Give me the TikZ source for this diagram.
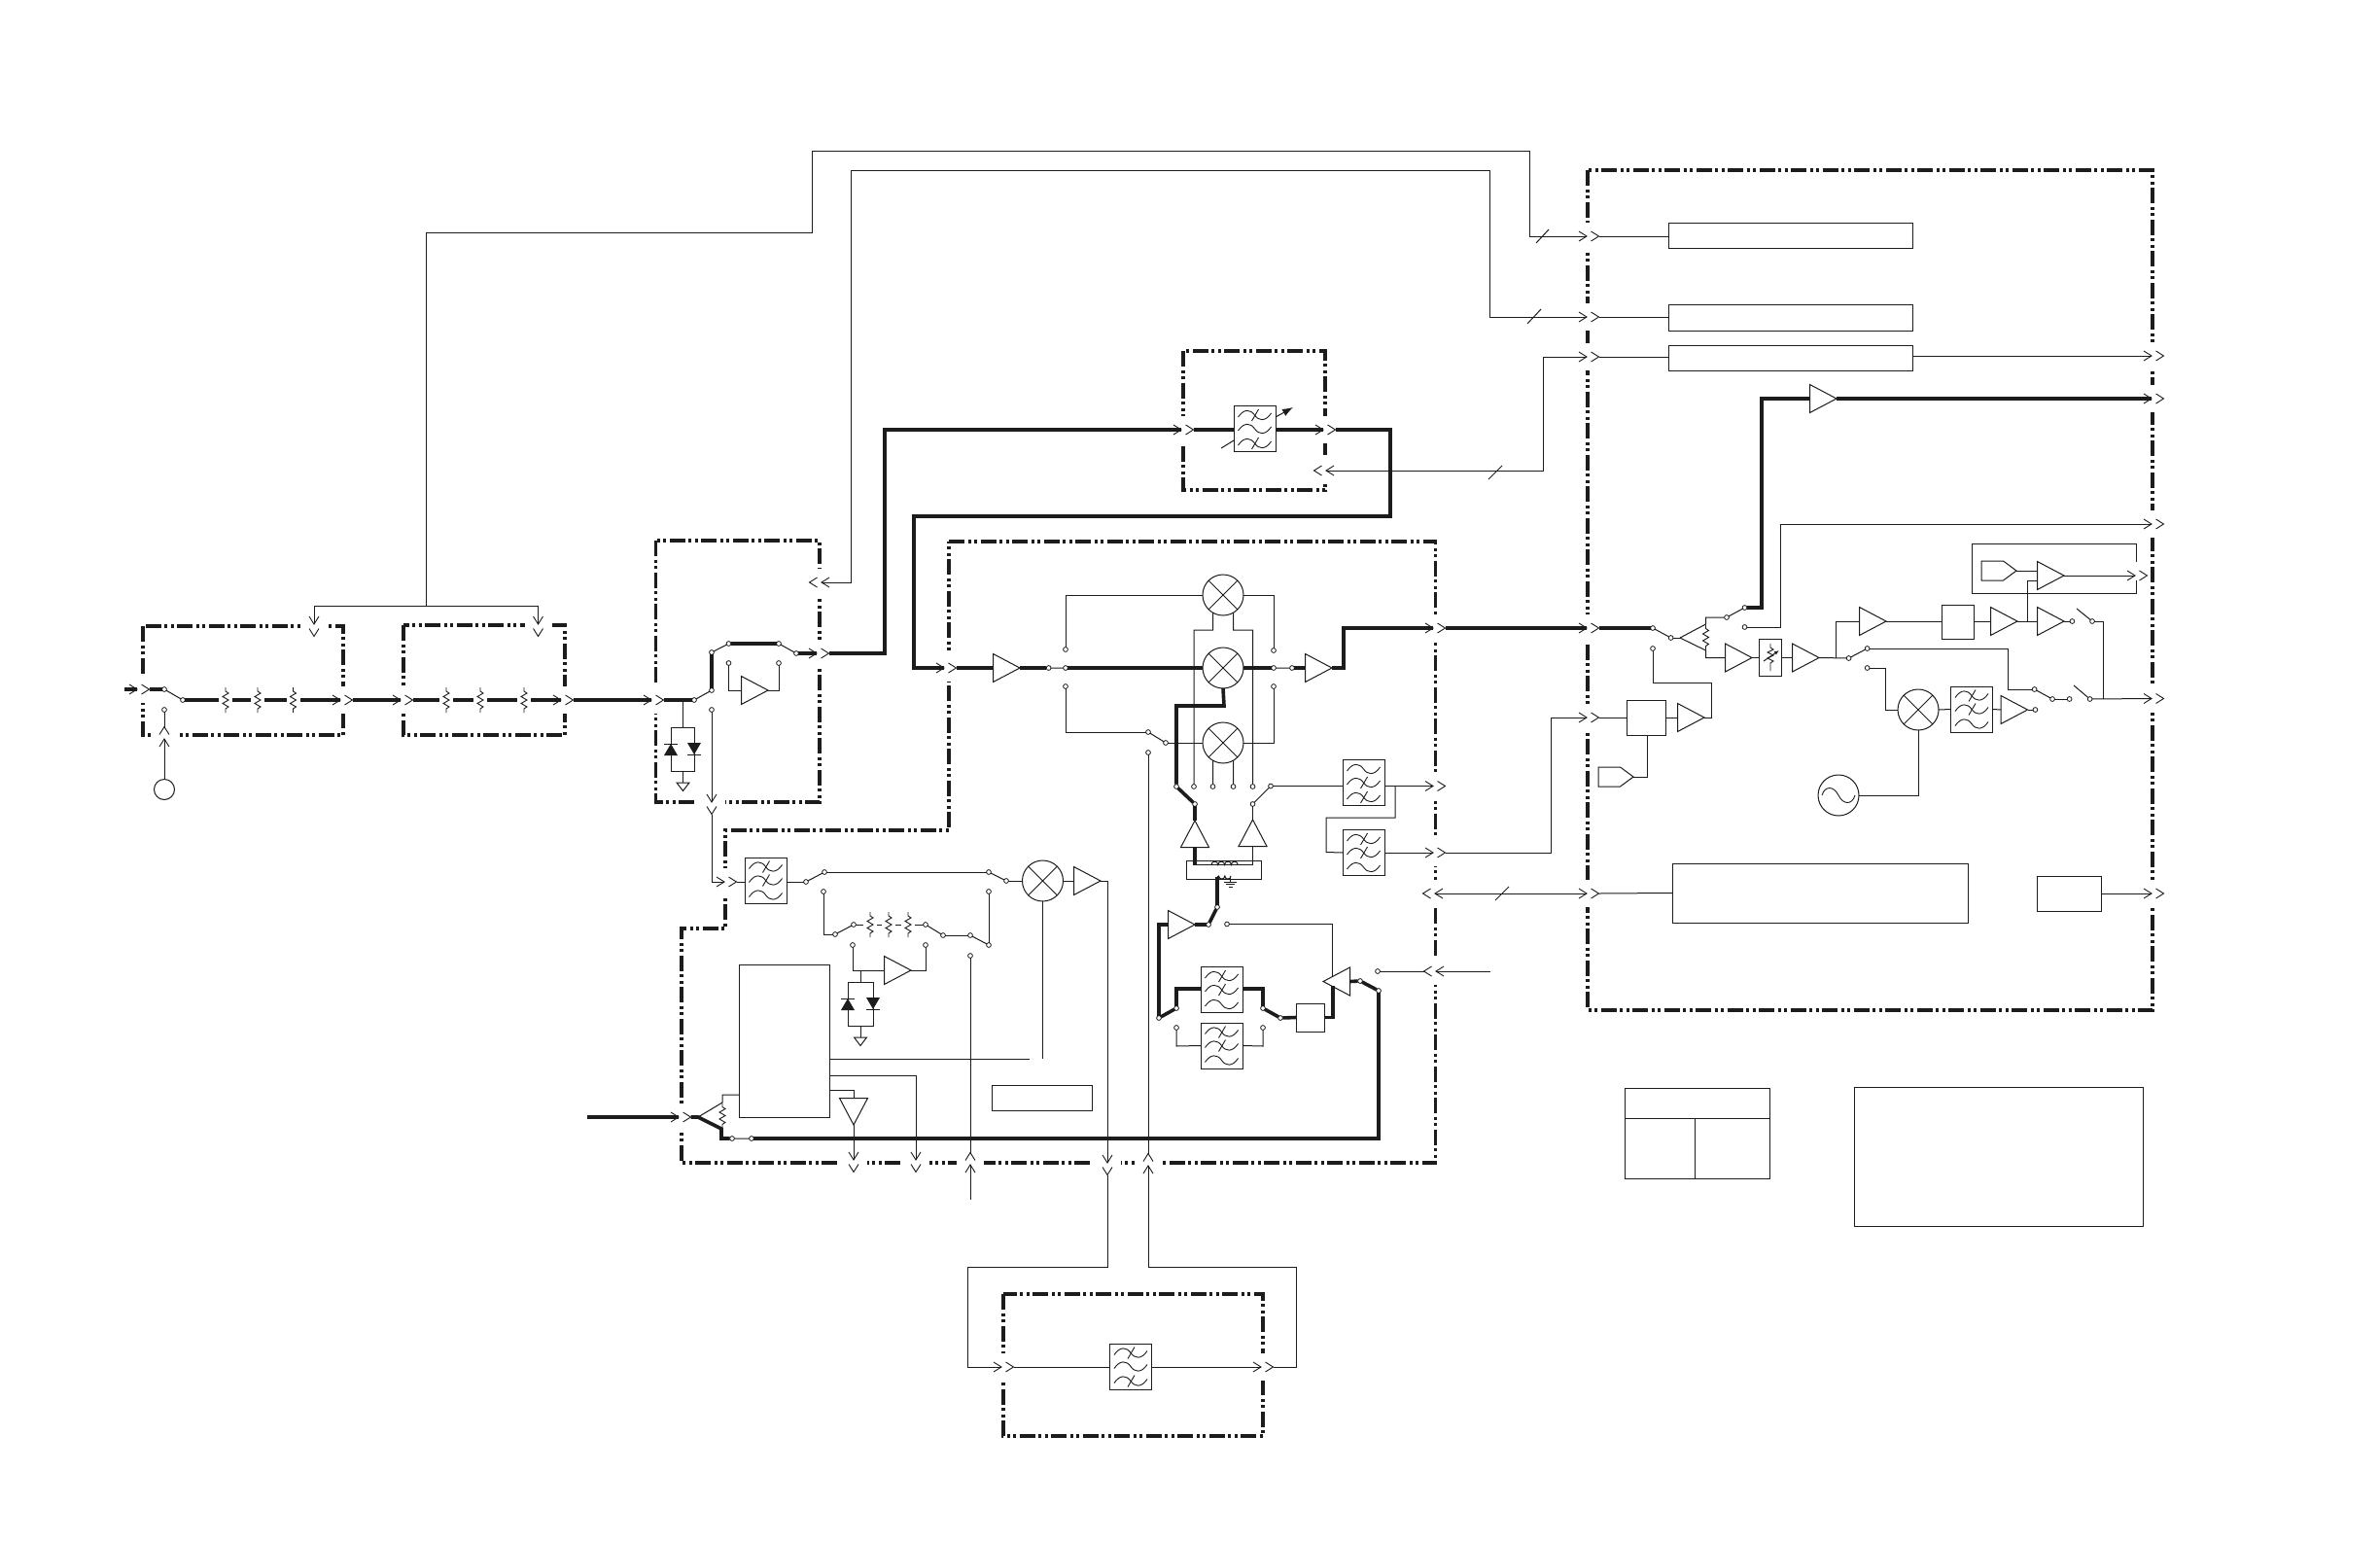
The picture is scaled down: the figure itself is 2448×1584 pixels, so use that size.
\documentclass[tikz,border=0pt]{standalone}
\usetikzlibrary{arrows.meta}
\definecolor{ink}{HTML}{1C1C1C}
\tikzset{
 dbox/.style={draw=ink,line width=3.2pt,dash pattern=on 16pt off 3.5pt on 3pt off 3.5pt on 3pt off 3.5pt},
 wire/.style={draw=ink,line width=1pt},
 bold/.style={draw=ink,line width=3.6pt,line join=miter},
 chevl/.style={draw=ink,line width=0.9pt},
 termn/.style={circle,draw=ink,fill=white,inner sep=0pt,minimum size=4.8pt,line width=0.8pt,outer sep=0pt},
 bx/.style={rectangle,draw=ink,inner sep=0pt,outer sep=0pt,line width=1pt},
 mixn/.style={circle,draw=ink,inner sep=0pt,outer sep=0pt,minimum size=42pt,line width=1pt},
 filtn/.style={rectangle,draw=ink,inner sep=0pt,outer sep=0pt,minimum width=43pt,minimum height=47pt,line width=1pt},
 wave/.style={draw=ink,line width=0.9pt}
}
\newcommand{\Chev}[4]{\begin{scope}[shift={(#2,#3)},rotate=#4]
 \fill[white] (-3,-14) rectangle (15,14);
 \draw[chevl] (-8,-5)--(0,0)--(-8,5) (4.5,-5)--(12.5,0)--(4.5,5);
 \coordinate (#1a) at (0,0);\coordinate (#1b) at (12.5,0);
 \end{scope}}
\newcommand{\Amp}[4]{\begin{scope}[shift={(#2,#3)},rotate=#4]
 \draw[wire] (-27.5,-14.5)--(0,0)--(-27.5,14.5)--cycle;
 \coordinate (#1o) at (0,0);\coordinate (#1i) at (-27.5,0);
 \end{scope}}
\newcommand{\Term}[3]{\node[termn] (#1) at (#2,#3) {};}
\newcommand{\Bx}[5]{\node[bx,minimum width=#4pt,minimum height=#5pt] (#1) at (#2,#3) {};}
\newcommand{\Mix}[3]{\node[mixn] (#1) at (#2,#3) {};
 \draw[wire] (#1.45)--(#1.225) (#1.135)--(#1.-45);}
\newcommand{\FiltRow}[2]{\begin{scope}[shift={(0,#1)}]
 \draw[wave] (-17,2) .. controls (-11,-7) and (-4,-6) .. (0,0) .. controls (4,6) and (11,7) .. (17,-2);
 \ifnum#2=1 \draw[wave] (-3,6)--(4,-6);\fi
 \end{scope}}
\newcommand{\Filt}[6]{\node[filtn] (#1) at (#2,#3) {};
 \begin{scope}[shift={(#2,#3)}]\FiltRow{-14}{#4}\FiltRow{0}{#5}\FiltRow{15}{#6}\end{scope}}
\newcommand{\Zig}[2]{\begin{scope}[shift={(#1,#2)}]
 \draw[wire,line width=0.9pt] (0,-13)--(0,-9)--(3,-7)--(-3,-3.5)--(3,0)--(-3,3.5)--(3,7)--(0,9)--(0,13);
 \end{scope}}
\newcommand{\Res}[2]{\fill[white] (#1-7,#2-3) rectangle (#1+7,#2+3);\Zig{#1}{#2}}
\newcommand{\DioU}[2]{\fill[ink] (#1-7,#2+12)--(#1+7,#2+12)--(#1,#2)--cycle;\draw[wire] (#1-7,#2)--(#1+7,#2);}
\newcommand{\DioD}[2]{\fill[ink] (#1-7,#2-12)--(#1+7,#2-12)--(#1,#2)--cycle;\draw[wire] (#1-7,#2)--(#1+7,#2);}
\newcommand{\Gnd}[2]{\draw[wire,line join=miter] (#1-6.5,#2)--(#1+6.5,#2)--(#1,#2+8.5)--cycle;}
\newcommand{\Pent}[3]{\begin{scope}[shift={(#2,#3)}]
 \draw[wire] (-36,-10)--(-13.5,-10)--(0,0)--(-13.5,10)--(-36,10)--cycle;
 \coordinate (#1) at (0,0);\end{scope}}
\begin{document}
\begin{tikzpicture}[x=1pt,y=-1pt]
\useasboundingbox (0,0) rectangle (2448,1584);
\fill[white] (0,0) rectangle (2448,1584);
% ---------- dash-dot-dot housings
\draw[dbox] (147,644) rectangle (353,756);
\draw[dbox] (415,643) rectangle (581,756);
\draw[dbox] (674.5,556) rectangle (843,825);
\draw[dbox] (1217,361) rectangle (1363,504);
\draw[dbox] (976,557)--(1476.5,557)--(1476.5,1196)--(701,1196)--(701,955)--(746,955)--(746,854)--(976,854)--cycle;
\draw[dbox] (1633,175) rectangle (2214,1039);
\draw[dbox] (1032,1331) rectangle (1299,1477);
% ---------- connector pairs through the housings
\Chev{cAl}{141}{709}{0}\Chev{cAr}{350}{720}{0}\Chev{cAt}{323}{642}{-90}\Chev{cAb}{169}{760}{90}
\Chev{cBl}{412}{720}{0}\Chev{cBr}{577}{720}{0}\Chev{cBt}{553.5}{642}{-90}
\Chev{cCl}{670}{720}{0}\Chev{cCr}{840}{672}{0}\Chev{cCu}{845}{599}{180}\Chev{cCb}{732}{825}{-90}
\Chev{cDl}{1215}{442}{0}\Chev{cDr}{1361}{442}{0}\Chev{cDu}{1364}{484}{180}
\Chev{cEl}{971}{687}{0}\Chev{cEs}{745}{907}{0}\Chev{cEk}{698}{1149}{0}
\Chev{cEr}{1474}{646}{0}\Chev{cEf}{1474}{808.5}{0}\Chev{cEg}{1474}{877}{0}
\Chev{cEh}{1476}{919}{180}\Chev{cEi}{1477}{999}{180}
\Chev{cEa}{878}{1193}{-90}\Chev{cEb}{942}{1193}{-90}\Chev{cEc}{998}{1198}{90}
\Chev{cEd}{1139}{1196}{-90}\Chev{cEe}{1181}{1199}{90}
\Chev{cJl}{1030}{1406}{0}\Chev{cJr}{1297}{1406}{0}
\Chev{cHa}{1632}{243}{0}\Chev{cHb}{1632}{326}{0}\Chev{cHc}{1632}{367}{0}\Chev{cHd}{1632}{646}{0}\Chev{cHe}{1632}{738}{0}\Chev{cHf}{1632}{919}{0}
\Chev{cRa}{2213}{366}{0}\Chev{cRb}{2213}{410}{0}\Chev{cRc}{2213}{539}{0}\Chev{cRd}{2213}{718.5}{0}\Chev{cRe}{2213}{919}{0}
\Chev{cTb}{2196}{592}{0}
% ---------- free ends
\coordinate (inA) at (128,709);\coordinate (inB) at (604,1149);\coordinate (inC) at (1533,999);\coordinate (inD) at (998,1234);
% ---------- components: front end
\node[circle,draw=ink,line width=1pt,minimum size=21pt,inner sep=0pt,outer sep=0pt] (Circ) at (169,812) {};
\Term{ta}{169}{709}\Term{tb}{188}{720}\Term{tc}{169}{730}
\Term{td}{714}{720}\Term{te}{732}{710}\Term{tf}{732}{671}\Term{tg}{749.5}{662}\Term{th}{801}{662}\Term{ti}{819}{672}
\Term{tj}{749.5}{682}\Term{tk}{801}{682}\Term{tl}{732}{730}
\Amp{aC}{790}{710}{0}
\Filt{fD}{1290.5}{441}{1}{0}{1}
% ---------- components: block E upper
\Amp{aEa}{1049}{687}{0}\Amp{aEb}{1370}{687}{0}
\Term{ua}{1078.6}{687}\Term{ub}{1096}{687}\Term{uc}{1096}{668}\Term{ud}{1096}{706}
\Term{ue}{1310}{687}\Term{uf}{1329}{687}\Term{ug}{1310}{669}\Term{uh}{1310}{706}
\Term{ui}{1181}{753}\Term{uj}{1199}{764}\Term{uk}{1181}{774}
\Mix{mA}{1258}{612}\Mix{mB}{1258}{687}\Mix{mC}{1258}{764}
\Term{va}{1210}{809}\Term{vb}{1228}{809}\Term{vc}{1247.5}{809}\Term{vd}{1268.5}{809}\Term{ve}{1288.5}{809}\Term{vf}{1307}{808.5}
\Term{vg}{1229}{827}\Term{vh}{1288.5}{827}
\Amp{aUa}{1229}{844}{90}\Amp{aUb}{1288.5}{843}{90}
\Filt{fF}{1402.5}{805}{0}{1}{1}\Filt{fG}{1402.5}{877}{1}{1}{0}
\Bx{xfm}{1259}{894.5}{77.5}{19}
\Term{wa}{1252}{933}\Term{wb}{1243}{951}\Term{wc}{1262}{950.5}
\Amp{aW}{1229}{951}{0}\Amp{aX}{1361}{1009.5}{180}
\Term{xa}{1192}{1047}\Term{xb}{1210}{1037}\Term{xc}{1299}{1037}\Term{xd}{1317}{1047}\Term{xe}{1210}{1057}\Term{xf}{1299}{1057}
\Term{xg}{1399}{1009}\Term{xh}{1418}{1019}\Term{xi}{1417}{999}
\Filt{fA}{1256.5}{1018}{1}{1}{0}\Filt{fB}{1256.5}{1075.5}{1}{1}{0}
\Bx{bP}{1347.5}{1046.5}{29}{29}
% ---------- components: block E lower
\Filt{fC}{787.5}{905.5}{1}{1}{0}
\Term{ya}{829}{907}\Term{yb}{848}{897}\Term{yc}{1017}{897}\Term{yd}{1035}{906}
\Mix{mD}{1072.5}{906}\Amp{aD}{1132}{906}{0}
\Term{za}{847}{917}\Term{zb}{859}{961}\Term{zc}{878}{951}\Term{zd}{952}{951}\Term{ze}{970}{962}\Term{zf}{998}{962}\Term{zg}{1017}{972}\Term{zh}{1017}{917}
\Term{zi}{998}{983}\Term{zj}{877}{972}\Term{zk}{952}{972}
\Amp{aZ}{937}{998}{0}
\Bx{bG}{806.5}{1070.5}{93}{157}
\Bx{bS}{1071.5}{1129}{103}{26}
\Amp{aG}{878}{1157}{-90}
\Term{la}{753}{1171}\Term{lb}{773}{1171}
\Filt{fJ}{1163}{1405.5}{1}{0}{1}
% ---------- components: block H
\Bx{rA}{1841.5}{242}{251}{26}\Bx{rB}{1841.5}{326.5}{251}{27}\Bx{rC}{1841.5}{368}{251}{26}
\Bx{rL}{1872.5}{918.5}{304}{61}\Bx{rS}{2128}{919}{66}{36}
\Bx{bK}{1693.5}{738}{40}{36}\Bx{bM}{2014}{639.5}{33.5}{35}
\Bx{bV}{1821}{676}{22.5}{38}
\Term{pa}{1700}{646}\Term{pb}{1718.6}{656}\Term{pc}{1700}{667}\Term{pd}{1776}{635}\Term{pe}{1794.5}{625}\Term{pf}{1794.5}{645}
\Term{qa}{1901.6}{677}\Term{qb}{1920.6}{667}\Term{qc}{1920.6}{687}
\Term{ra}{2131.4}{639}\Term{rb}{2152}{639}\Term{rc}{2149.6}{719}\Term{rd}{2092.6}{709}\Term{re}{2111}{719}\Term{rf}{2128.6}{719}\Term{rg}{2093.4}{730}
\Amp{aHa}{1889}{410}{0}\Amp{aHb}{1753}{738}{0}\Amp{aHc}{1802}{676.5}{0}\Amp{aHd}{1871}{676.5}{0}
\Amp{aHe}{1940}{639}{0}\Amp{aHf}{2075}{639}{0}\Amp{aHg}{2123}{639}{0}\Amp{aHh}{2123}{592}{0}\Amp{aHi}{2085.5}{730}{0}
\Mix{mH}{1973}{730}
\Filt{fH}{2028}{729.5}{1}{1}{0}
\node[circle,draw=ink,line width=1pt,minimum size=42pt,inner sep=0pt,outer sep=0pt] (Osc) at (1891,818) {};
\draw[wave] (1874,818) .. controls (1877,808) and (1886,808) .. (1891,818) .. controls (1896,828) and (1905,828) .. (1908,818);
\Pent{pA}{1680}{799}\Pent{pB}{2074}{587}
% ---------- plain boxes with no connectors
\Bx{lgA}{1745.5}{1165.5}{149}{93}\Bx{lgB}{2055.5}{1189.5}{297}{143}
\draw[wire] (lgA.west |- 0,1150)--(lgA.east |- 0,1150) (1743,1150)--(lgA.south -| 1743,0);
\draw[wire] (2197.4,578)--(2197.4,559)--(2028.6,559)--(2028.6,610)--(2197.4,610)--(2197.4,597);
% ---------- main signal path, bold
\draw[bold] (inA)--(cAla);
\draw[bold] (cAlb)--(ta);
\draw[bold] (tb)--(cAra);
\draw[bold] (cArb)--(cBla);
\draw[bold] (cBlb)--(cBra);
\draw[bold] (cBrb)--(cCla);
\draw[bold] (cClb)--(td);
\draw[bold] (te)--(tf);
\draw[bold] (tg)--(th);
\draw[bold] (ti)--(cCra);
\draw[bold] (cCrb)--(910,672)--(910,442)--(cDla);
\draw[bold] (cDlb)--(cDlb -| fD.west);
\draw[bold] (fD.east |- cDra)--(cDra);
\draw[bold] (cDrb)--(1430,442)--(1430,531)--(940,531)--(940,687)--(cEla);
\draw[bold] (cElb)--(aEai);
\draw[bold] (aEao)--(ua);
\draw[bold] (ub)--(mB.west);
\draw[bold] (mB.east)--(ue);
\draw[bold] (uf)--(aEbi);
\draw[bold] (aEbo)--(1382,687)--(1382,646)--(cEra);
\draw[bold] (cErb)--(cHda);
\draw[bold] (cHdb)--(pa);
\draw[bold] (mB.south)--(1259,726)--(1210,726)--(va);
\draw[bold] (va)--(vg);
\draw[bold] (vg)--(aUao);
\draw[bold] (aUai)--(1229,890);
\draw[bold] (1252,902)--(wa);
\draw[bold] (wa)--(wb);
\draw[bold] (wb)--(aWo);
\draw[bold] (aWi)--(1192,951)--(xa);
\draw[bold] (xa)--(xb);
\draw[bold] (xb)--(1210,1017)--(fA.west |- 0,1017);
\draw[bold] (fA.east |- 0,1017)--(1299,1017)--(xc);
\draw[bold] (xc)--(xd);
\draw[bold] (xd)--(bP.west);
\draw[bold] (bP.east)--(1371,1046.5)--(1371,1014);
\draw[bold] (aXi)--(xg);
\draw[bold] (xg)--(xh);
\draw[bold] (xh)--(1418,1171)--(lb);
\draw[bold] (inB)--(cEka);
\draw[bold] (cEkb)--(718,1149)--(742,1161)--(742,1171)--(la);
\draw[bold] (pe)--(1812,625)--(1812,410)--(aHai);
\draw[bold] (aHao)--(cRba);
% ---------- thin switch blades
\draw[wire] (ta)--(tb) (td)--(te) (tf)--(tg) (th)--(ti) (ua)--(ub) (ue)--(uf) (ui)--(uj)
 (vf)--(vh) (ya)--(yb) (yc)--(yd) (zb)--(zc) (zd)--(ze) (zf)--(zg) (la)--(lb) (pa)--(pb) (pd)--(pe) (qa)--(qb) (rd)--(re);
\draw[wire] (2136,626)--(rb) (2133,705)--(rc);
% ---------- thin connectors, left side
\draw[wire] (tc)--(cAbb);
\draw[wire] (Circ.north)--(cAba);
\draw[wire] (cAta)--(323,623)--(553.5,623)--(cBta);
\draw[wire] (438,623)--(438,239)--(835,239)--(835,155)--(1573,155)--(1573,243)--(cHaa);
\draw[wire] (cCua)--(875.5,599)--(875.5,175)--(1532,175)--(1532,326)--(cHba);
\draw[wire] (cDua)--(1587,484)--(1587,367)--(cHca);
\draw[wire] (1580,250)--(1593,236) (1571,333)--(1585,318) (1531,493)--(1545,479) (1538,926)--(1552,912);
\draw[wire] (cHab)--(cHab -| rA.west);
\draw[wire] (cHbb)--(cHbb -| rB.west);
\draw[wire] (cHcb)--(cHcb -| rC.west);
\draw[wire] (rC.east |- cRaa)--(cRaa);
\draw[wire] (tj)--(749.5,710)--(aCi);
\draw[wire] (aCo)--(801,710)--(tk);
\draw[wire] (702.5,720)--(702.5,748);
\draw[wire] (690,748) rectangle (714,793);
\draw[wire] (702.5,793)--(702.5,805);
\DioU{690}{765}\DioD{714}{776}\Gnd{702.5}{805}
\draw[wire] (tl)--(cCba);
\draw[wire] (cCbb)--(732,907)--(cEsa);
\draw[wire] (cEsb)--(cEsb -| fC.west);
\draw[wire] (fC.east |- ya)--(ya);
\draw[wire] (yb)--(yc);
\draw[wire] (yd)--(mD.west);
\draw[wire] (mD.east)--(aDi);
\draw[wire] (aDo)--(1139,906)--(cEda);
\draw[wire] (cEdb)--(1139,1303)--(995,1303)--(995,1406)--(cJla);
\draw[wire] (cJlb)--(cJlb -| fJ.west);
\draw[wire] (fJ.east |- cJra)--(cJra);
\draw[wire] (cJrb)--(1333,1406)--(1333,1303)--(1181,1303)--(cEea);
\draw[wire] (cEeb)--(uk);
\draw[wire] (za)--(847,961)--(zb);
\draw[wire] (zc)--(zd);
\draw[wire] (ze)--(zf);
\draw[wire] (zg)--(zh);
\draw[wire] (zi)--(cEcb);
\draw[wire] (inD)--(cEca);
\draw[wire] (zj)--(877,998)--(aZi);
\draw[wire] (aZo)--(952,998)--(zk);
\draw[wire] (885,998)--(885,1010);
\draw[wire] (872,1010) rectangle (898,1055);
\draw[wire] (885,1055)--(885,1067);
\DioU{872}{1027}\DioD{898}{1038}\Gnd{885}{1067}
\draw[wire] (mD.south)--(1072.5,1089);
\draw[wire] (bG.east |- 0,1089)--(1059,1089);
\draw[wire] (bG.east |- 0,1106)--(942,1106)--(cEba);
\draw[wire] (bG.east |- 0,1121)--(878,1121)--(aGi);
\draw[wire] (aGo)--(cEaa);
\draw[wire] (718,1149)--(743,1134)--(743,1126)--(bG.west |- 0,1126);
% ---------- thin connectors, block E right
\draw[wire] (uc)--(1096,612)--(mA.west);
\draw[wire] (mA.east)--(1310,612)--(ug);
\draw[wire] (ud)--(1096,753)--(ui);
\draw[wire] (uj)--(mC.west);
\draw[wire] (uh)--(1310,764)--(mC.east);
\draw[wire] (mA.-120)--(1247.5,648)--(1228,648)--(vb);
\draw[wire] (mA.-60)--(1268.5,648)--(1288.5,648)--(ve);
\draw[wire] (mC.-120)--(vc);
\draw[wire] (mC.-60)--(vd);
\draw[wire] (vh)--(aUbo);
\draw[wire] (aUbi)--(1288.5,889)--(1229,889);
\draw[wire] (vf)--(vf -| fF.west);
\draw[wire] (fF.east |- vf)--(cEfa);
\draw[wire] (1435,808.5)--(1435,841)--(1364,841)--(1364,876.5)--(fG.west);
\draw[wire] (fG.east)--(cEga);
\draw[wire] (cEgb)--(1595,877)--(1595,738)--(cHea);
\draw[wire] (cEha)--(cHfa);
\draw[wire] (cHfb)--(rL.west);
\draw[wire] (cEib)--(xi);
\draw[wire] (inC)--(cEia);
\draw[wire] (wc)--(1370,950.5)--(1370,1004);
\draw[wire] (xe)--(1210,1076)--(fB.west);
\draw[wire] (fB.east)--(1299,1076)--(xf);
% transformer coils and ground
\draw[wire] (1246,889.5) arc[start angle=180,end angle=360,radius=3.4] arc[start angle=180,end angle=360,radius=3.4] arc[start angle=180,end angle=360,radius=3.4] arc[start angle=180,end angle=360,radius=3.4];
\draw[wire] (1252,902) -- (1253.6,901) arc[start angle=180,end angle=0,radius=3.1] arc[start angle=180,end angle=0,radius=3.1];
\draw[wire] (1265.5,901)--(1265.5,907) (1259,907)--(1272,907) (1261,909.5)--(1270,909.5) (1263.5,912)--(1267.5,912);
% ---------- thin connectors, block H
\draw[wire] (pb)--(1728,656);
\draw[wire] (1728,656)--(1754.5,642)--(1754.5,635)--(pd);
\draw[wire] (1728,656)--(1754.5,669)--(1754.5,676.5)--(aHci);
\Zig{1754.5}{655.5}
\draw[wire] (pf)--(1831,645)--(1831,539)--(cRca);
\draw[wire] (cHeb)--(bK.west);
\draw[wire] (bK.east)--(aHbi);
\draw[wire] (aHbo)--(1760.5,738)--(1760.5,702)--(1700,702)--(pc);
\draw[wire] (pA)--(1694.5,799)--(bK.south -| 1694.5,0);
\draw[wire] (aHco)--(aHco -| bV.west);
\draw[wire] (aHdi -| bV.east)--(aHdi);
\draw[wire] (aHdo)--(qa);
\draw[wire] (1888,677)--(1888,639)--(aHei);
\draw[wire] (aHeo)--(aHeo -| bM.west);
\draw[wire] (aHfi -| bM.east)--(aHfi);
\draw[wire] (aHfo)--(aHgi);
\draw[wire] (aHgo)--(ra);
\draw[wire] (rb)--(2163.4,639)--(2163.4,718.5);
\draw[wire] (rc)--(cRda);
\draw[wire] (qb)--(2065,667)--(2065,709)--(rd);
\draw[wire] (re)--(rf);
\draw[wire] (qc)--(1939,687)--(1939,730)--(mH.west);
\draw[wire] (mH.east)--(fH.west);
\draw[wire] (fH.east)--(aHii);
\draw[wire] (aHio)--(rg);
\draw[wire] (Osc.east)--(1973,818)--(mH.south);
\draw[wire] (pB)--(2095,587);
\draw[wire] (aHho)--(cTba);
\draw[wire] (2095,597)--(2085,597)--(2085,639);
\draw[wire] (rS.east)--(cRea);
% attenuator and tunable filter marks
\draw[wire,line width=0.9pt] (1821,662)--(1821,666)--(1824,668)--(1818,671)--(1824,674)--(1818,677)--(1824,680)--(1821,682)--(1821,690);
\draw[wire,-{Latex[length=5pt,width=4pt]}] (1814,680)--(1830,669);
\draw[wire,-{Latex[length=11pt,width=8pt]}] (1312,429)--(1330,419);
\draw[wire] (1256,461)--(1269,453);
% ---------- series resistors on top of their lines
\Res{232}{720}\Res{265}{720}\Res{301.5}{720}
\Res{459}{720}\Res{494}{720}\Res{539}{720}
\Res{895}{951}\Res{914}{951}\Res{934}{951}
\Zig{743}{1147.5}
\end{tikzpicture}
\end{document}
